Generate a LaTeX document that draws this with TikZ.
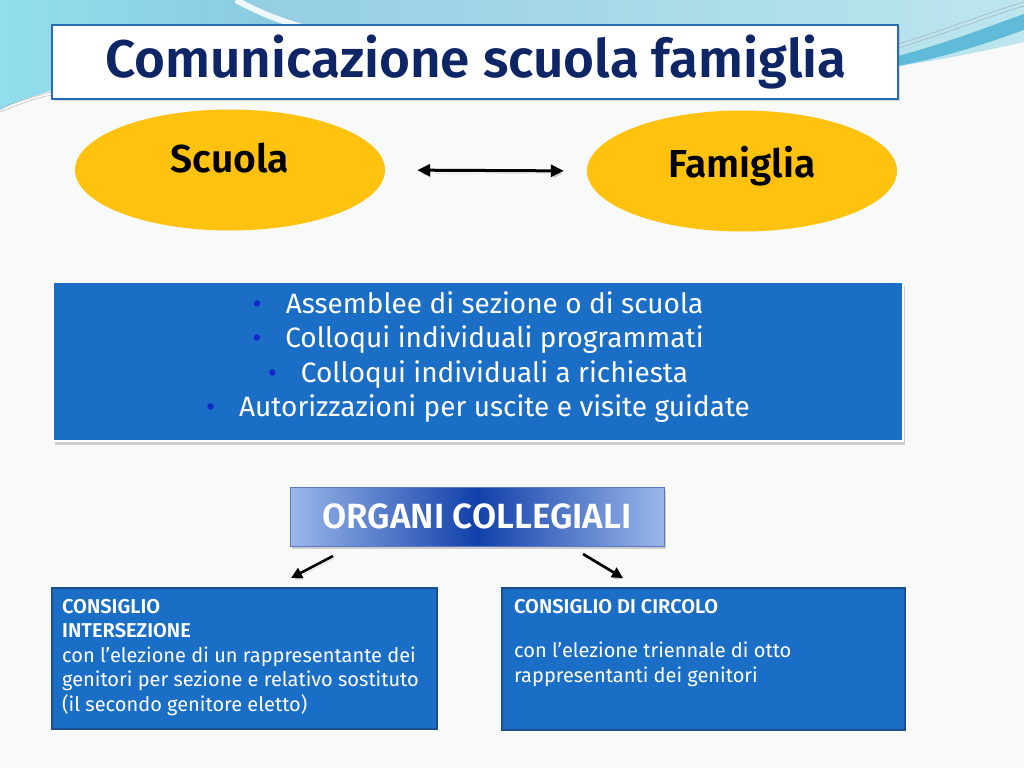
\documentclass[tikz,border=0pt]{standalone}
\usepackage{fontspec}
\setmainfont{Fira Sans}[BoldFont={Fira Sans SemiBold}]
\usetikzlibrary{shadows,arrows.meta,shapes.geometric}
\definecolor{bgwhite}{HTML}{F8F9F9}
\definecolor{topblue}{HTML}{86C6DE}
\definecolor{topcyan}{HTML}{BDE6EF}
\definecolor{stripe}{HTML}{5FBBD8}
\definecolor{navy}{HTML}{0E2566}
\definecolor{titleborder}{HTML}{2A6BB5}
\definecolor{gold}{HTML}{FFC20E}
\definecolor{boxblue}{HTML}{1A6EC6}
\definecolor{boxborder}{HTML}{1D4F8E}
\definecolor{bulletblue}{HTML}{1228C8}
\definecolor{orgdark}{HTML}{1240AA}
\definecolor{orglight}{HTML}{9AB8EA}
\tikzset{
  titlebox/.style={draw=titleborder, line width=2.5pt, fill=white,
    drop shadow={opacity=0.25, shadow xshift=2pt, shadow yshift=-2pt},
    minimum width=846pt, minimum height=74pt, inner sep=0pt},
  oval/.style={ellipse, fill=gold, minimum width=310pt, minimum height=121pt, inner sep=0pt},
  ovaltext/.style={font=\fontsize{39}{44}\selectfont\bfseries, text=black},
  listbox/.style={draw=white, line width=2pt, fill=boxblue,
    drop shadow={opacity=0.35, shadow xshift=2pt, shadow yshift=-4pt},
    minimum width=850pt, minimum height=159pt, inner sep=0pt},
  listtext/.style={align=center, text=white, font=\fontsize{28}{34.3}\selectfont},
  orgbox/.style={draw=orgdark!70, line width=0.8pt, left color=orglight, right color=orglight, middle color=orgdark,
    drop shadow={opacity=0.35, shadow xshift=2pt, shadow yshift=-3pt},
    minimum width=374pt, minimum height=59pt, inner sep=0pt,
    font=\fontsize{35}{38}\selectfont\bfseries, text=white},
  infobox/.style={draw=boxborder, line width=1.5pt, fill=boxblue, inner sep=0pt},
  infotext/.style={align=left, text=white, font=\fontsize{20}{24.5}\selectfont, anchor=north west, inner sep=0pt},
  conn/.style={draw=black, line width=2.6pt, -{Triangle[length=11pt,width=11pt]},
    preaction={draw=black!50, opacity=0.35, transform canvas={xshift=1.5pt,yshift=-2.5pt}}},
}
\newcommand{\blt}{{\color{bulletblue}\fontsize{28}{28}\selectfont\textbullet}\hspace{24pt}}
\begin{document}
\begin{tikzpicture}[x=1pt,y=-1pt]
\useasboundingbox (0,0) rectangle (1024,768);
\fill[bgwhite] (0,0) rectangle (1024,768);
% top decoration
\shade[left color=topblue, right color=topcyan]
  (0,0) -- (1024,0) -- (1024,42) .. controls (980,52) and (940,60) .. (898,66)
  -- (60,88) .. controls (35,95) and (15,102) .. (0,110) -- cycle;
\shade[left color=topblue!60!cyan!60, right color=topblue, opacity=0.7]
  (0,0) -- (240,0) .. controls (262,12) and (280,20) .. (300,27) -- (52,90)
  .. controls (30,96) and (15,102) .. (0,110) -- cycle;
\draw[white, line width=6pt, opacity=0.85] (236,0) .. controls (258,12) and (278,20) .. (305,28);
\fill[stripe] (898,56) .. controls (950,42) and (990,26) .. (1024,14) -- (1024,30)
  .. controls (990,42) and (950,56) .. (898,66) -- cycle;
\draw[gray!70, line width=0.4pt] (898,44) .. controls (950,28) and (990,12) .. (1024,2);
\draw[gray!70, line width=0.4pt] (898,48) .. controls (950,32) and (990,16) .. (1024,6);
\draw[gray!60, line width=0.4pt] (0,112) .. controls (20,104) and (35,98) .. (52,95);
\draw[gray!60, line width=0.4pt] (0,108) .. controls (20,101) and (35,96) .. (52,92);

% title
\node[titlebox] (title) at (475,62) {};
\node[font=\fontsize{53}{56}\selectfont\bfseries, text=navy] (titletext) at (476,62) {Comunicazione scuola famiglia};

% ovals
\node[oval] (scuola) at (230,170) {};
\node[ovaltext] (scuolatext) at (230,158) {Scuola};
\node[oval] (famiglia) at (742,171) {};
\node[ovaltext] (famigliatext) at (742,166) {Famiglia};
\draw[line width=3pt, {Triangle[length=13pt,width=12pt]}-{Triangle[length=13pt,width=12pt]},
  preaction={draw=black!50, opacity=0.3, transform canvas={xshift=1.5pt,yshift=-3pt}},
  shorten <=32pt, shorten >=23pt] (scuola.east) -- (famiglia.west);

% list box
\node[listbox] (list) at (478,361.5) {};
\node[listtext] (listtext) at (478,357) {%
\blt Assemblee di sezione o di scuola\\
\blt Colloqui individuali programmati\\
\blt Colloqui individuali a richiesta\\
\blt Autorizzazioni per uscite e visite guidate};

% organi collegiali
\node[orgbox] (org) at (477,516.5) {ORGANI COLLEGIALI};

% bottom boxes
\node[infobox, minimum width=385pt, minimum height=141pt] (inter) at (244.5,658.5) {};
\node[infotext] (intertext) at (62,599) {\textbf{CONSIGLIO}\\ \textbf{INTERSEZIONE}\\
con l’elezione di un rappresentante dei\\
genitori per sezione e relativo sostituto\\
(il secondo genitore eletto)};
\node[infobox, minimum width=403pt, minimum height=142pt] (circolo) at (703.5,659) {};
\node[infotext] (circolotext) at (514,599) {\textbf{CONSIGLIO DI CIRCOLO}\\[20pt]
con l’elezione triennale di otto\\
rappresentanti dei genitori};

% arrows
\coordinate (a1) at (333,556);
\coordinate (a2) at (291,578);
\coordinate (b1) at (583,554);
\coordinate (b2) at (623,578);
\draw[conn] (a1) -- (a2);
\draw[conn] (b1) -- (b2);
\end{tikzpicture}
\end{document}
